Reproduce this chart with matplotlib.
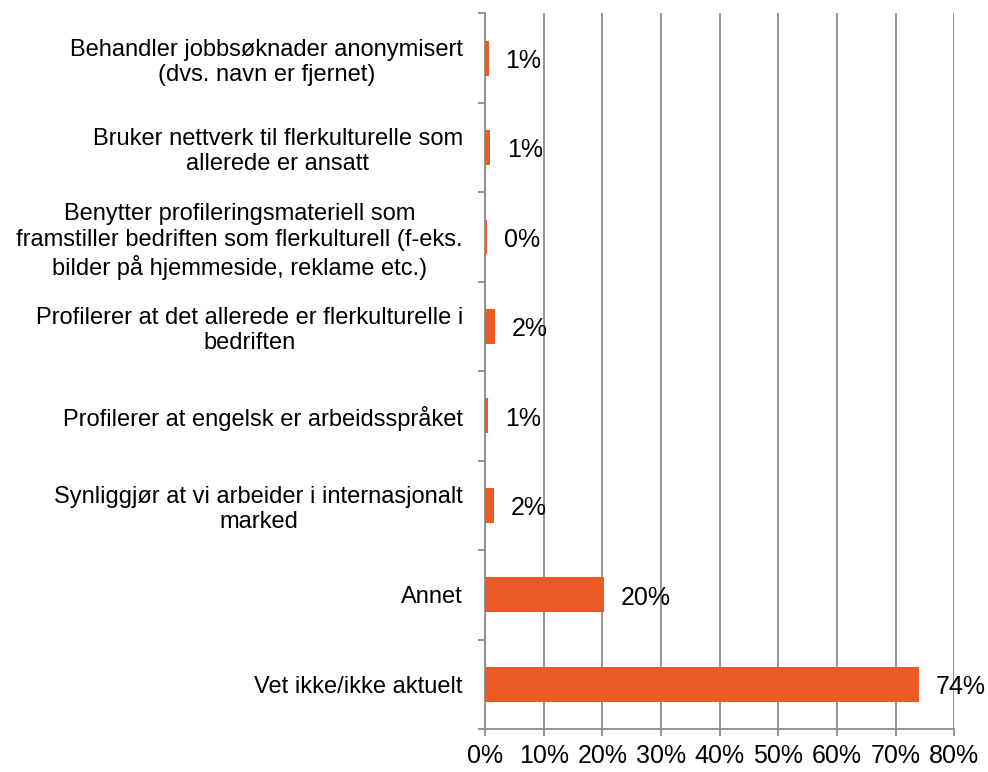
import numpy as np
import matplotlib
matplotlib.use("Agg")
import matplotlib.pyplot as plt
from matplotlib.ticker import FixedLocator

categories = [
    "Behandler jobbsøknader anonymisert\n(dvs. navn er fjernet)",
    "Bruker nettverk til flerkulturelle som\nallerede er ansatt",
    "Benytter profileringsmateriell som\nframstiller bedriften som flerkulturell (f-eks.\nbilder på hjemmeside, reklame etc.)",
    "Profilerer at det allerede er flerkulturelle i\nbedriften",
    "Profilerer at engelsk er arbeidsspråket",
    "Synliggjør at vi arbeider i internasjonalt\nmarked",
    "Annet",
    "Vet ikke/ikke aktuelt",
]
values = [0.6, 0.85, 0.4, 1.75, 0.5, 1.6, 20.3, 73.9]
value_labels = ["1%", "1%", "0%", "2%", "1%", "2%", "20%", "74%"]
x_ticks = [0, 10, 20, 30, 40, 50, 60, 70, 80]

plt.rcParams["font.family"] = ["Liberation Sans", "DejaVu Sans"]

bar_color = "#EB5B25"
grid_color = "#8C8C8C"

fig = plt.figure(figsize=(9.88, 7.72), dpi=100)
ax = fig.add_axes([0.491, 0.0557, 0.475, 0.927])

y = np.arange(len(categories))
bars = ax.barh(y, values, height=0.39, color=bar_color, zorder=3)
for bar, lab in zip(bars, value_labels):
    ax.annotate(lab, (bar.get_width(), bar.get_y() + bar.get_height() / 2),
                xytext=(12, -2), textcoords="offset points",
                ha="left", va="center", fontsize=18, zorder=4)

ax.set_xlim(0, 80)
ax.set_ylim(len(categories) - 0.5, -0.5)

ax.set_xticks(x_ticks)
ax.set_xticklabels([f"{t}%" for t in x_ticks], fontsize=18)
ax.xaxis.grid(True, color=grid_color, linewidth=1.3, zorder=0)

ax.set_yticks(y)
ax.set_yticklabels(categories, fontsize=17, multialignment="center")
ax.tick_params(axis="y", which="major", length=0, pad=16)
ax.yaxis.set_minor_locator(FixedLocator(np.arange(-0.5, len(categories), 1.0)))
ax.tick_params(axis="y", which="minor", length=5, width=1.3, color=grid_color)
ax.tick_params(axis="x", length=5, width=1.3, color=grid_color, pad=6)

for side in ["top", "right"]:
    ax.spines[side].set_visible(False)
for side in ["left", "bottom"]:
    ax.spines[side].set_color(grid_color)
    ax.spines[side].set_linewidth(1.3)

fig.savefig("out.png", dpi=100)
